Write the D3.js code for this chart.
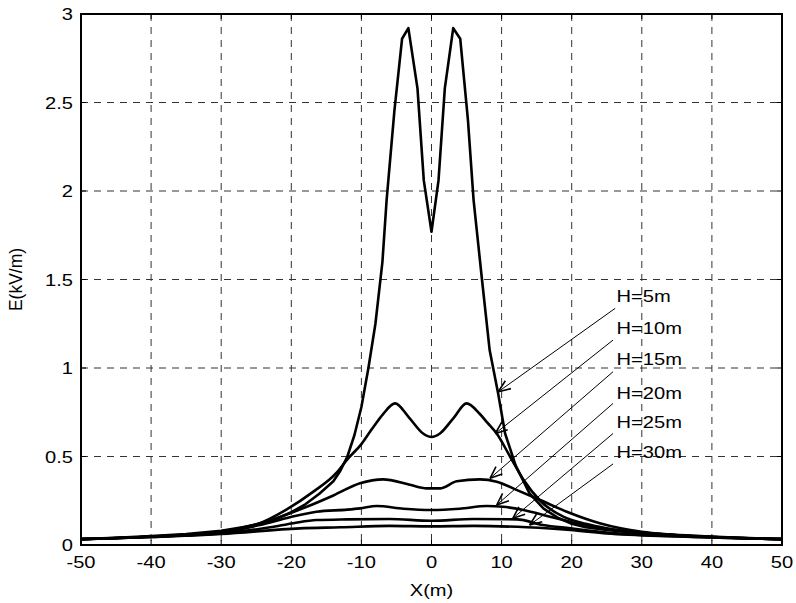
<!DOCTYPE html>
<html><head><meta charset="utf-8">
<script src="https://cdn.jsdelivr.net/npm/d3@7"></script>
<style>html,body{margin:0;padding:0;background:#fff;}svg{display:block;font-family:"Liberation Sans",Arial,sans-serif;}</style>
</head><body><svg id="c" width="796" height="603"></svg>
<script>
const xTicks = [-50,-40,-30,-20,-10,0,10,20,30,40,50];
const yTicks = [0,0.5,1,1.5,2,2.5,3];
const yTickLabels = ["0","0.5","1","1.5","2","2.5","3"];

const x5  = [-50,-45,-40,-35,-30,-27,-25,-22,-20,-18,-16,-14,-13,-12,-11,-10,-9,-8,-7,-6.4,-5.3,-4.2,-3.3,-2,-1.1,0,1,1.9,3.1,4.1,5.2,6,7.2,8.3,9.5,10.5,12,14,16,18,20,22,25,30,35,40,45,50];
const h5  = [0.033,0.04,0.05,0.062,0.08,0.1,0.115,0.15,0.185,0.23,0.29,0.36,0.42,0.5,0.62,0.78,1.0,1.25,1.6,1.95,2.45,2.86,2.92,2.58,2.06,1.77,2.06,2.58,2.92,2.86,2.4,1.95,1.5,1.1,0.857,0.63,0.45,0.29,0.205,0.155,0.12,0.1,0.085,0.065,0.052,0.045,0.038,0.033];
const x10 = [-50,-40,-30,-25,-20.7,-16.9,-13.5,-12.1,-10,-8.5,-6.9,-5.2,-3.2,-1.2,0,1.2,3.2,5,6.9,8,9.3,11.2,13.1,15.5,18.8,22,25,30,40,50];
const h10 = [0.033,0.048,0.078,0.115,0.2,0.3,0.41,0.48,0.57,0.655,0.74,0.80,0.72,0.63,0.61,0.63,0.72,0.80,0.74,0.69,0.63,0.5,0.37,0.25,0.16,0.12,0.095,0.07,0.045,0.033];
const x15 = [-50,-40,-30,-23,-17.8,-14,-10.2,-6.9,-3.1,-0.7,1.2,3.6,6.9,9.3,12.2,15.5,19.3,24,30,40,50];
const h15 = [0.033,0.048,0.075,0.14,0.216,0.28,0.349,0.371,0.34,0.32,0.32,0.36,0.371,0.358,0.31,0.254,0.188,0.123,0.075,0.048,0.033];
const x20 = [-50,-40,-30,-24.5,-20.2,-16.4,-12,-10.2,-7.8,-4,0,4,7.9,10.2,13.1,16.9,21.7,27,35,50];
const h20 = [0.033,0.047,0.07,0.113,0.157,0.188,0.2,0.207,0.22,0.205,0.198,0.205,0.22,0.216,0.198,0.16,0.113,0.08,0.055,0.033];
const x25 = [-50,-40,-30,-23,-19.7,-16.4,-12,-6,0,6,12.2,15.9,19.8,25,35,50];
const h25 = [0.033,0.045,0.065,0.1,0.123,0.141,0.145,0.147,0.137,0.147,0.145,0.113,0.094,0.07,0.05,0.033];
const x30 = [-50,-40,-30,-18.8,-13,-6,0,6,13.6,19.8,25,35,50];
const h30 = [0.033,0.045,0.062,0.094,0.1,0.108,0.105,0.108,0.1,0.085,0.065,0.048,0.033];

const labels   = ["H=5m","H=10m","H=15m","H=20m","H=25m","H=30m"];
const labelY   = [1.407,1.226,1.051,0.859,0.695,0.525];
const labelX   = 26.4;
const arrowFrom = [[26.2,1.337],[25.9,1.158],[25.9,0.979],[25.9,0.8],[25.9,0.63],[25.9,0.458]];
const arrowTo   = [[9.53,0.866],[9.1,0.63],[8.35,0.377],[9.3,0.226],[11.6,0.151],[14.0,0.113]];

const svg = d3.select("#c");
const L=81, R=782, T=14, B=545;
const x = d3.scaleLinear().domain([-50,50]).range([L,R]);
const y = d3.scaleLinear().domain([0,3]).range([B,T]);
const SX = 1.22, FS = 16.5;

function txt(px,py,s,anchor){
  svg.append("text").attr("transform",`translate(${px},${py}) scale(${SX},1)`)
    .attr("text-anchor",anchor||"start").attr("font-size",FS).attr("fill","#000").text(s);
}

// grid
const g = svg.append("g").attr("stroke","#333").attr("stroke-width",1).attr("stroke-dasharray","7,6");
xTicks.slice(1,-1).forEach(t=>g.append("line").attr("x1",x(t)).attr("x2",x(t)).attr("y1",T).attr("y2",B));
yTicks.slice(1,-1).forEach(t=>g.append("line").attr("x1",L).attr("x2",R).attr("y1",y(t)).attr("y2",y(t)));

// ticks (inward, all sides)
const tk = svg.append("g").attr("stroke","#000").attr("stroke-width",1);
xTicks.forEach(t=>{tk.append("line").attr("x1",x(t)).attr("x2",x(t)).attr("y1",B).attr("y2",B-5);
  tk.append("line").attr("x1",x(t)).attr("x2",x(t)).attr("y1",T).attr("y2",T+5);});
yTicks.forEach(t=>{tk.append("line").attr("x1",L).attr("x2",L+5).attr("y1",y(t)).attr("y2",y(t));
  tk.append("line").attr("x1",R).attr("x2",R-5).attr("y1",y(t)).attr("y2",y(t));});

// curves
const series = [[x5,h5],[x10,h10],[x15,h15],[x20,h20],[x25,h25],[x30,h30]];
series.forEach(([xs,vs],k)=>{
  const line = d3.line().x(d=>x(d[0])).y(d=>y(d[1])).curve(k===0?d3.curveLinear:d3.curveMonotoneX);
  svg.append("path").datum(xs.map((v,i)=>[v,vs[i]])).attr("d",line)
    .attr("fill","none").attr("stroke","#000").attr("stroke-width",2.6).attr("stroke-linejoin","round");
});

// frame
svg.append("rect").attr("x",L).attr("y",T).attr("width",R-L).attr("height",B-T)
  .attr("fill","none").attr("stroke","#000").attr("stroke-width",2);

// arrows
arrowFrom.forEach((f,i)=>{
  const x1=x(f[0]),y1=y(f[1]),x2=x(arrowTo[i][0]),y2=y(arrowTo[i][1]);
  svg.append("line").attr("x1",x1).attr("y1",y1).attr("x2",x2).attr("y2",y2).attr("stroke","#000").attr("stroke-width",1);
  const a=Math.atan2(y1-y2,x1-x2), len=13, sp=0.38;
  [a+sp,a-sp].forEach(b=>svg.append("line").attr("x1",x2).attr("y1",y2)
    .attr("x2",x2+len*Math.cos(b)).attr("y2",y2+len*Math.sin(b)).attr("stroke","#000").attr("stroke-width",1.6));
  txt(x(labelX), y(labelY[i])+6, labels[i], "start");
});

// tick labels
xTicks.forEach(t=>txt(x(t), 568, String(t), "middle"));
yTicks.forEach((t,i)=>txt(73, y(t)+6, yTickLabels[i], "end"));

// axis titles
txt(x(0), 596, "X(m)", "middle");
svg.append("text").attr("transform",`translate(22,${(T+B)/2}) scale(1.1,1) rotate(-90)`)
  .attr("text-anchor","middle").attr("font-size",FS+1).attr("fill","#000").text("E(kV/m)");
</script></body></html>
